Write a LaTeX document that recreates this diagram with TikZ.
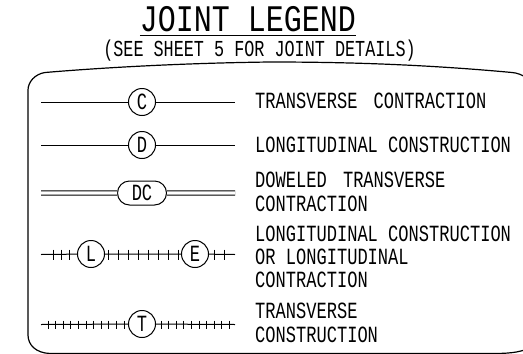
\documentclass[tikz,border=0pt]{standalone}
\usepackage{fontspec}
\newfontfamily\cadfont[FakeStretch=0.735]{Liberation Mono}
\newfontfamily\cadtitle[FakeStretch=0.8]{Liberation Mono}
\usetikzlibrary{shapes.misc}
\tikzset{x=1pt, y=-1pt,
         every node/.style={font=\fontsize{23.2}{23.5}\selectfont\cadfont},
         joint/.style={draw, circle, line width=1pt, minimum size=27pt, inner sep=0pt},
         jointlong/.style={draw, rounded rectangle, line width=1pt, minimum width=49pt, minimum height=24pt, inner sep=0pt},
         legendtext/.style={anchor=base west, align=left, inner sep=0pt},
         jointline/.style={line width=1pt},
         frameline/.style={line width=1.2pt},
         }

\begin{document}
\begin{tikzpicture}
    \useasboundingbox (0,0) rectangle (523,354);

    % heading
    \node[anchor=base, inner sep=0pt, font=\fontsize{37.5}{40}\selectfont\cadtitle] (title) at (248,31) {JOINT LEGEND};
    \node[anchor=base, inner sep=0pt, font=\fontsize{22.85}{23.5}\selectfont\cadfont] (subtitle) at (259.5,56.5) {(SEE SHEET 5 FOR JOINT DETAILS)};
    \draw[line width=1.6pt] (title.base west |- 0,35.5) -- (title.base east |- 0,35.5);

    % frame
    \draw[frameline] (527,78) .. controls (522,75) and (518,73) .. (512,72.5)
        .. controls (420,64) and (340,62) .. (270,62)
        .. controls (190,63) and (110,67) .. (45,72.5)
        .. controls (35,74) and (28,82) .. (28,90) -- (28,335)
        .. controls (28,345) and (36,353) .. (50,353.5) -- (480,353.5)
        .. controls (500,353.5) and (515,354) .. (527,349);

    % symbols
    \node[joint] (c) at (142,102) {C};
    \node[joint] (d) at (142,145) {D};
    \node[jointlong] (dc) at (142,193) {DC};
    \node[joint] (l) at (91,254) {L};
    \node[joint] (e) at (195,254) {E};
    \node[joint] (t) at (142,324) {T};

    \coordinate (c1) at (41,102);   \coordinate (c2) at (235,102);
    \coordinate (d1) at (41,145);   \coordinate (d2) at (235,145);
    \coordinate (dc1) at (41,193);  \coordinate (dc2) at (235,193);
    \coordinate (l1) at (41,254.5); \coordinate (e2) at (235,254.5);
    \coordinate (t1) at (41,324.5); \coordinate (t2) at (235,324.5);

    \draw[jointline] (c1) -- (c) (c) -- (c2);
    \draw[jointline] (d1) -- (d) (d) -- (d2);
    \draw[jointline, double, double distance=3.4pt] (dc1) -- (dc) (dc) -- (dc2);
    \draw[jointline] (l1) -- (l) (l) -- (e) (e) -- (e2);
    \draw[jointline] (t1) -- (t) (t) -- (t2);

    % tick marks
    \foreach \x in {53,61,69}
        \draw[jointline] (\x,249.5) -- (\x,259.5);
    \foreach \x in {108,118,128,138,148,158,168,178}
        \draw[jointline] (\x,249.5) -- (\x,259.5);
    \foreach \x in {214,224}
        \draw[jointline] (\x,249.5) -- (\x,259.5);
    \foreach \x in {48,55.6,...,125}
        \draw[jointline] (\x,320.5) -- (\x,328.5);
    \foreach \x in {161,168.6,...,232}
        \draw[jointline] (\x,320.5) -- (\x,328.5);

    % descriptions
    \node[legendtext] (txtc) at (255,108) {TRANSVERSE\hspace{6pt} CONTRACTION};
    \node[legendtext] (txtd) at (255,152) {LONGITUDINAL CONSTRUCTION};
    \node[legendtext] (txtdc) at (255,187) {DOWELED\hspace{6pt} TRANSVERSE};
    \node[legendtext] (txtdcb) at (255,211) {CONTRACTION};
    \node[legendtext] (txtl) at (255,241) {LONGITUDINAL CONSTRUCTION};
    \node[legendtext] (txtlb) at (255,264) {OR LONGITUDINAL};
    \node[legendtext] (txtlc) at (255,287) {CONTRACTION};
    \node[legendtext] (txtt) at (255,318) {TRANSVERSE};
    \node[legendtext] (txttb) at (255,342) {CONSTRUCTION};
\end{tikzpicture}
\end{document}
